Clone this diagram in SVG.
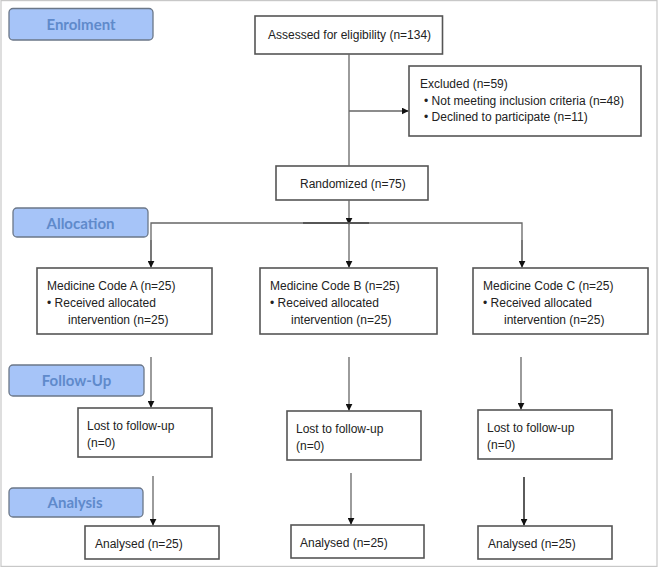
<svg xmlns="http://www.w3.org/2000/svg" width="659" height="568" viewBox="0 0 659 568">
<defs>
<marker id="ah" viewBox="0 0 10 10" refX="9" refY="5" markerWidth="7" markerHeight="7" markerUnits="userSpaceOnUse" orient="auto">
<path d="M0,0 L10,5 L0,10 Z" fill="#111"/>
</marker>
<style>
.frame{fill:#fff;stroke:#c8c8c8;stroke-width:1.2}
.stage rect{fill:#a6c4f8;stroke:#6b7788;stroke-width:1.3}
.stage text{font-family:Lato,"Open Sans",sans-serif;font-weight:bold;font-size:15px;fill:#5f8acb;text-anchor:middle}
.box rect{fill:#fff;stroke:#555;stroke-width:1.6}
.box text{font-family:"Liberation Sans",Arial,sans-serif;font-size:12px;fill:#222}
.conn line,.conn path{stroke:#666;stroke-width:1.3;fill:none}
</style>
</defs>
<rect class="frame" x="1" y="0.6" width="656" height="565.8"/>

<g id="stage-enrolment" class="stage"><rect x="9" y="8.5" width="144" height="31.5" rx="4"/><text x="81" y="30">Enrolment</text></g>
<g id="stage-allocation" class="stage"><rect x="13" y="208" width="135" height="29" rx="4"/><text x="80.5" y="228.5">Allocation</text></g>
<g id="stage-followup" class="stage"><rect x="9" y="365" width="135" height="31" rx="4"/><text x="76.5" y="386">Follow-Up</text></g>
<g id="stage-analysis" class="stage"><rect x="9" y="488" width="134" height="29" rx="4"/><text x="75" y="508">Analysis</text></g>

<g id="assessed" class="box"><rect x="255" y="16" width="187.5" height="38"/><text x="268" y="38.5">Assessed for eligibility (n=134)</text></g>
<g id="excluded" class="box"><rect x="409" y="66" width="232" height="70"/><text x="420" y="88">Excluded (n=59)</text><text x="424" y="104.5">•  Not meeting inclusion criteria (n=48)</text><text x="424" y="121">•  Declined to participate (n=11)</text></g>
<g id="randomized" class="box"><rect x="276" y="166" width="152" height="34"/><text x="300" y="187.5">Randomized (n=75)</text></g>

<g id="alloc-a" class="box"><rect x="37" y="268" width="175" height="66"/><text x="47" y="289.5">Medicine Code A (n=25)</text><text x="47" y="306.5">• Received allocated</text><text x="68" y="324">intervention (n=25)</text></g>
<g id="alloc-b" class="box"><rect x="260" y="268" width="177" height="66"/><text x="270" y="289.5">Medicine Code B (n=25)</text><text x="270" y="306.5">• Received allocated</text><text x="291" y="324">intervention (n=25)</text></g>
<g id="alloc-c" class="box"><rect x="473" y="268" width="175" height="66"/><text x="483" y="289.5">Medicine Code C (n=25)</text><text x="483" y="306.5">• Received allocated</text><text x="504" y="324">intervention (n=25)</text></g>

<g id="lost-a" class="box"><rect x="78" y="408" width="134" height="49"/><text x="87" y="429.5">Lost to follow-up</text><text x="87" y="446.5">(n=0)</text></g>
<g id="lost-b" class="box"><rect x="287" y="411" width="134" height="49"/><text x="296" y="432.5">Lost to follow-up</text><text x="296" y="449.5">(n=0)</text></g>
<g id="lost-c" class="box"><rect x="478" y="410" width="134" height="49"/><text x="487" y="431.5">Lost to follow-up</text><text x="487" y="448.5">(n=0)</text></g>

<g id="analysed-a" class="box"><rect x="85" y="526" width="134" height="33"/><text x="95" y="547.5">Analysed (n=25)</text></g>
<g id="analysed-b" class="box"><rect x="291" y="525" width="133" height="33"/><text x="300" y="546.5">Analysed (n=25)</text></g>
<g id="analysed-c" class="box"><rect x="478" y="526" width="134" height="33"/><text x="488" y="547.5">Analysed (n=25)</text></g>

<g id="connectors" class="conn">
<line x1="349" y1="54" x2="349" y2="166"/>
<line x1="349" y1="111" x2="408" y2="111" marker-end="url(#ah)"/>
<line x1="349" y1="200" x2="349" y2="224" marker-end="url(#ah)"/>
<path d="M151,262 V223 H522 V262"/>
<line x1="303" y1="223" x2="369" y2="223" style="stroke:#444;stroke-width:1.6"/>
<line x1="151" y1="240" x2="151" y2="267" marker-end="url(#ah)"/>
<line x1="349" y1="223" x2="349" y2="267" marker-end="url(#ah)"/>
<line x1="522" y1="240" x2="522" y2="267" marker-end="url(#ah)"/>
<line x1="151" y1="357" x2="151" y2="407" marker-end="url(#ah)"/>
<line x1="349" y1="357" x2="349" y2="410" marker-end="url(#ah)"/>
<line x1="521" y1="357" x2="521" y2="409" marker-end="url(#ah)"/>
<line x1="153" y1="476" x2="153" y2="525" marker-end="url(#ah)"/>
<line x1="351" y1="473" x2="351" y2="524" marker-end="url(#ah)"/>
<line x1="524" y1="477" x2="524" y2="525" marker-end="url(#ah)" style="stroke:#333;stroke-width:1.6"/>
</g>
</svg>
